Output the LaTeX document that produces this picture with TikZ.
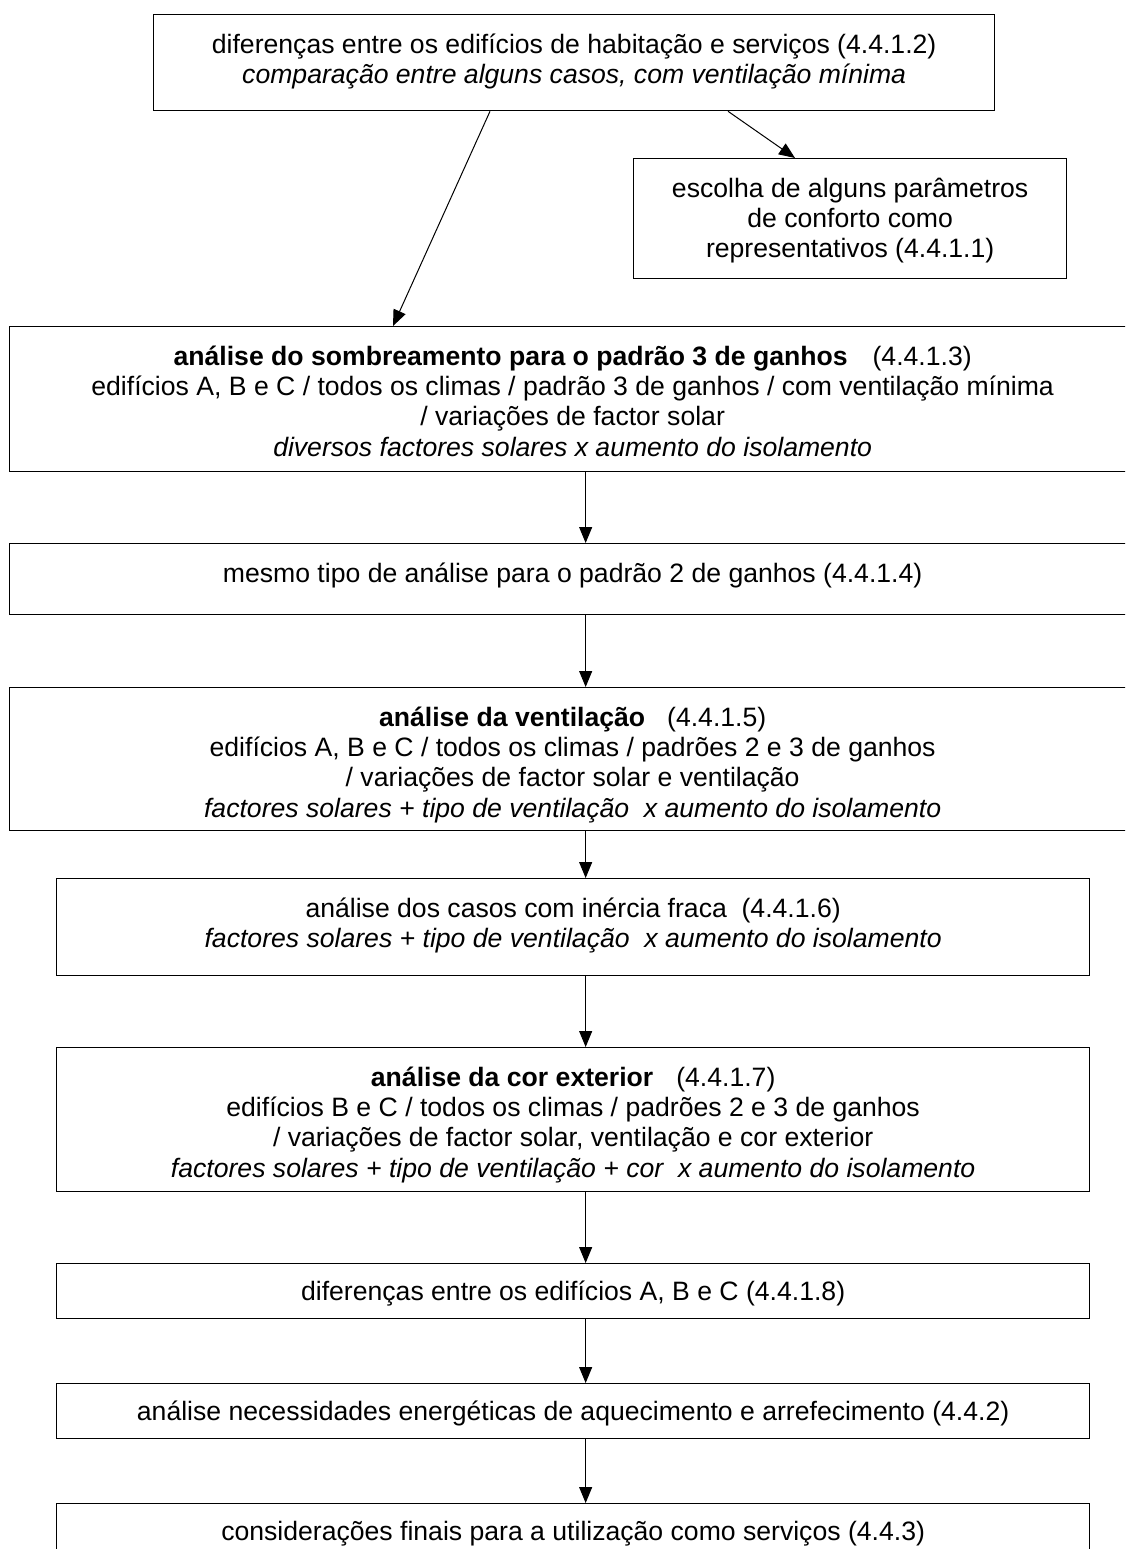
\documentclass[tikz,border=0pt]{standalone}
\usepackage{fontspec}
\setmainfont{Liberation Sans}
\usetikzlibrary{arrows.meta}
\begin{document}
\begin{tikzpicture}[x=1pt,y=-1pt,
  box/.style={draw, line width=1.3pt, inner sep=0pt, anchor=north west},
  txt/.style={align=center, inner sep=0pt, anchor=north, font=\fontsize{26.6}{30.3}\selectfont},
  arr/.style={line width=1pt, -{Triangle[length=16pt,width=13pt]}}]
\useasboundingbox (0,0) rectangle (1125,1549);
\clip (0,0) rectangle (1125,1549);
\fill[white] (0,0) rectangle (1125,1549);
% boxes
\node[box, minimum width=841pt, minimum height=96pt]  (b1)  at (153,14)   {};
\node[box, minimum width=433pt, minimum height=120pt] (b2)  at (633,158)  {};
\node[box, minimum width=1126pt, minimum height=145pt] (b3) at (9,326)    {};
\node[box, minimum width=1126pt, minimum height=71pt]  (b4) at (9,543)    {};
\node[box, minimum width=1126pt, minimum height=143pt] (b5) at (9,687)    {};
\node[box, minimum width=1033pt, minimum height=97pt]  (b6) at (56,878)   {};
\node[box, minimum width=1033pt, minimum height=144pt] (b7) at (56,1047)  {};
\node[box, minimum width=1033pt, minimum height=55pt]  (b8) at (56,1263)  {};
\node[box, minimum width=1033pt, minimum height=55pt]  (b9) at (56,1383)  {};
\node[box, minimum width=1033pt, minimum height=60pt]  (b10) at (56,1503) {};
% texts
\node[txt] (t1) at ([yshift=-15pt]b1.north) {\rule{0pt}{24pt}diferenças entre os edifícios de habitação e serviços (4.4.1.2)\\
  \textit{comparação entre alguns casos, com ventilação mínima}};
\node[txt] (t2) at ([yshift=-15pt]b2.north) {\rule{0pt}{24pt}escolha de alguns parâmetros\\ de conforto como\\ representativos (4.4.1.1)};
\node[txt] (t3) at ([yshift=-15pt]b3.north) {\rule{0pt}{24pt}\textbf{análise do sombreamento para o padrão 3 de ganhos}\hspace{25pt}(4.4.1.3)\\
  edifícios A, B e C / todos os climas / padrão 3 de ganhos / com ventilação mínima\\
  / variações de factor solar\\
  \textit{diversos factores solares x aumento do isolamento}};
\node[txt] (t4) at ([yshift=-15pt]b4.north) {\rule{0pt}{24pt}mesmo tipo de análise para o padrão 2 de ganhos (4.4.1.4)};
\node[txt] (t5) at ([yshift=-15pt]b5.north) {\rule{0pt}{24pt}\textbf{análise da ventilação}\hspace{22pt}(4.4.1.5)\\
  edifícios A, B e C / todos os climas / padrões 2 e 3 de ganhos\\
  / variações de factor solar e ventilação\\
  \textit{factores solares + tipo de ventilação\ \ x aumento do isolamento}};
\node[txt] (t6) at ([yshift=-15pt]b6.north) {\rule{0pt}{24pt}análise dos casos com inércia fraca\ \ (4.4.1.6)\\
  \textit{factores solares + tipo de ventilação\ \ x aumento do isolamento}};
\node[txt] (t7) at ([yshift=-15pt]b7.north) {\rule{0pt}{24pt}\textbf{análise da cor exterior}\hspace{23pt}(4.4.1.7)\\
  edifícios B e C / todos os climas / padrões 2 e 3 de ganhos\\
  / variações de factor solar, ventilação e cor exterior\\
  \textit{factores solares + tipo de ventilação + cor\ \ x aumento do isolamento}};
\node[txt] (t8) at ([yshift=-13pt]b8.north) {\rule{0pt}{24pt}diferenças entre os edifícios A, B e C (4.4.1.8)};
\node[txt] (t9) at ([yshift=-13pt]b9.north) {\rule{0pt}{24pt}análise necessidades energéticas de aquecimento e arrefecimento (4.4.2)};
\node[txt] (t10) at ([yshift=-13pt]b10.north) {\rule{0pt}{24pt}considerações finais para a utilização como serviços (4.4.3)};
% connectors
\draw[arr] ([xshift=337pt]b1.south west) -- ([xshift=384pt]b3.north west);
\draw[arr] ([xshift=575pt]b1.south west) -- ([xshift=162pt]b2.north west);
\draw[arr] ([xshift=13pt]b3.south) -- ([xshift=13pt]b4.north);
\draw[arr] ([xshift=13pt]b4.south) -- ([xshift=13pt]b5.north);
\draw[arr] ([xshift=13pt]b5.south) -- ([xshift=12.5pt]b6.north);
\draw[arr] ([xshift=12.5pt]b6.south) -- ([xshift=12.5pt]b7.north);
\draw[arr] ([xshift=12.5pt]b7.south) -- ([xshift=12.5pt]b8.north);
\draw[arr] ([xshift=12.5pt]b8.south) -- ([xshift=12.5pt]b9.north);
\draw[arr] ([xshift=12.5pt]b9.south) -- ([xshift=12.5pt]b10.north);
\end{tikzpicture}
\end{document}
